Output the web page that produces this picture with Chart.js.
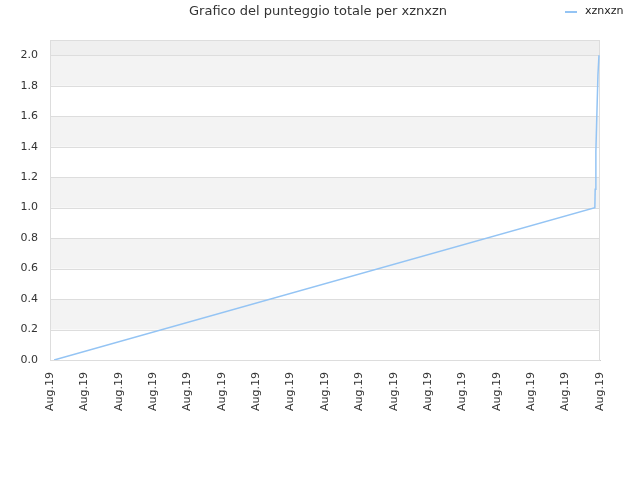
<!DOCTYPE html>
<html>
<head>
<meta charset="utf-8">
<script src="https://cdn.jsdelivr.net/npm/chart.js@4"></script>
<style>
  html, body { margin: 0; padding: 0; background: #fff; }
  #wrap { width: 640px; height: 480px; }
</style>
</head>
<body>
<div id="wrap"><canvas id="grafico" width="640" height="480"></canvas></div>
<script>
// dati (asse x: tempo in unità arbitrarie, tutte "Aug.19")
const seriesName = 'xznxzn';
const titleText = 'Grafico del punteggio totale per xznxzn';
const xValues = [1.2, 158.5, 158.6, 158.8, 159.1, 159.4, 159.7];
const yValues = [0.0, 1.0, 1.12, 1.37, 1.62, 1.87, 2.0];
const xTickLabel = 'Aug.19';
const yMax = 2.1;
const yStep = 0.2;

const lineColor = '#94c4f4';
const fontFam = '"DejaVu Sans", Verdana, sans-serif';

const bande = {
    id: 'bande',
    beforeDatasetsDraw(chart) {
        const { ctx, chartArea: a, scales: { y } } = chart;
        ctx.save();
        // fascia sopra l'ultimo tick
        ctx.fillStyle = '#efefef';
        ctx.fillRect(a.left, a.top, a.right - a.left, y.getPixelForValue(2.0) - a.top);
        for (let i = 0; i < y.ticks.length - 1; i++) {
            if (i % 2 === 1) {
                const y0 = y.getPixelForValue(y.ticks[i].value);
                const y1 = y.getPixelForValue(y.ticks[i + 1].value);
                ctx.fillStyle = '#f3f3f3';
                ctx.fillRect(a.left, y1, a.right - a.left, y0 - y1);
            }
        }
        // linee orizzontali
        ctx.strokeStyle = '#dddddd';
        ctx.lineWidth = 1;
        y.ticks.forEach(t => {
            const py = Math.round(y.getPixelForValue(t.value)) + 0.5;
            ctx.beginPath();
            ctx.moveTo(a.left, py);
            ctx.lineTo(a.right, py);
            ctx.stroke();
        });
        // bordi
        ctx.beginPath();
        ctx.moveTo(a.left + 0.5, a.top);
        ctx.lineTo(a.left + 0.5, a.bottom);
        ctx.moveTo(a.right - 0.5, a.top);
        ctx.lineTo(a.right - 0.5, a.bottom);
        ctx.stroke();
        ctx.restore();
    },
    afterDraw(chart) {
        const { ctx } = chart;
        ctx.save();
        ctx.fillStyle = '#333';
        ctx.font = '13px ' + fontFam;
        ctx.textAlign = 'center';
        ctx.textBaseline = 'middle';
        ctx.fillText(titleText, 318, 12);
        // legenda
        const ds = chart.data.datasets[0];
        ctx.strokeStyle = ds.borderColor;
        ctx.lineWidth = 2;
        ctx.beginPath();
        ctx.moveTo(565, 12);
        ctx.lineTo(577, 12);
        ctx.stroke();
        ctx.fillStyle = '#222';
        ctx.font = '11px ' + fontFam;
        ctx.textAlign = 'left';
        ctx.fillText(ds.label, 585, 11);
        ctx.restore();
    }
};

new Chart(document.getElementById('grafico'), {
    type: 'line',
    data: {
        datasets: [{
            label: seriesName,
            data: xValues.map((x, i) => ({ x: x, y: yValues[i] })),
            borderColor: lineColor,
            borderWidth: 1.5,
            pointRadius: 0,
            fill: false,
            tension: 0
        }]
    },
    options: {
        responsive: false,
        animation: false,
        devicePixelRatio: 1,
        layout: { padding: { top: 40, right: 40, left: 0, bottom: 0 } },
        plugins: {
            legend: { display: false },
            title: { display: false },
            tooltip: { enabled: false }
        },
        scales: {
            x: {
                type: 'linear',
                min: 0,
                max: 160,
                ticks: {
                    stepSize: 10,
                    autoSkip: false,
                    maxRotation: 90,
                    minRotation: 90,
                    color: '#333',
                    padding: 12,
                    font: { family: fontFam, size: 11 },
                    callback: () => xTickLabel
                },
                grid: { display: false, drawTicks: false },
                border: { display: true, color: '#cccccc' },
                afterFit: s => { s.height = 120; }
            },
            y: {
                min: 0,
                max: yMax,
                ticks: {
                    stepSize: yStep,
                    color: '#333',
                    padding: 12,
                    font: { family: fontFam, size: 11 },
                    callback: v => (v > 2.05 ? '' : v.toFixed(1))
                },
                grid: { display: false, drawTicks: false },
                border: { display: true, color: '#cccccc' },
                afterFit: s => { s.width = 50; }
            }
        }
    },
    plugins: [bande]
});
</script>
</body>
</html>
